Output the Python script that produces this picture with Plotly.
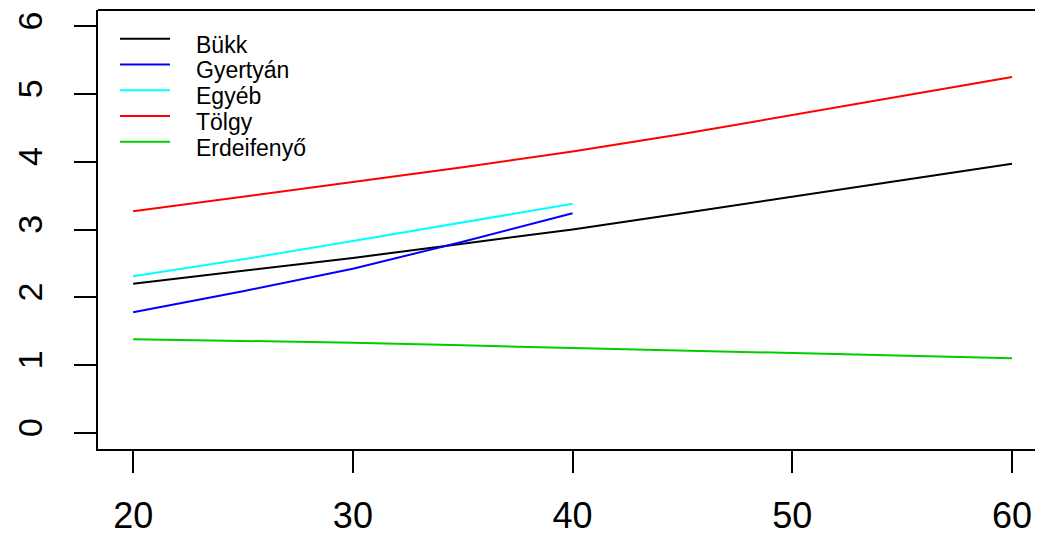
import plotly.graph_objects as go

x_long = [20, 25, 30, 35, 40, 45, 50, 55, 60]
x_short = [20, 25, 30, 35, 40]

bukk = [2.20, 2.39, 2.58, 2.79, 3.00, 3.24, 3.48, 3.72, 3.97]
gyertyan = [1.78, 2.09, 2.42, 2.82, 3.24]
egyeb = [2.31, 2.56, 2.83, 3.10, 3.38]
tolgy = [3.27, 3.48, 3.70, 3.92, 4.15, 4.41, 4.69, 4.96, 5.25]
erdeifenyo = [1.38, 1.36, 1.33, 1.29, 1.25, 1.21, 1.17, 1.14, 1.10]

names = ["Bükk", "Gyertyán", "Egyéb", "Tölgy", "Erdeifenyő"]
colors = ["#000000", "#0000FF", "#00FFFF", "#FF0000", "#00CD00"]
xs = [x_long, x_short, x_short, x_long, x_long]
ys = [bukk, gyertyan, egyeb, tolgy, erdeifenyo]

x_ticks = [20, 30, 40, 50, 60]
y_ticks = [0, 1, 2, 3, 4, 5, 6]

# page has an 8px body margin, so figure is sized to fill the rest of the window
W, H = 1035, 528
ML, MR, MT, MB = 90, 0, 2, 87
PW, PH = W - ML - MR, H - MT - MB

fig = go.Figure()
for n, c, xv, yv in zip(names, colors, xs, ys):
    fig.add_trace(go.Scatter(x=xv, y=yv, mode="lines", name=n,
                             line=dict(color=c, width=2), showlegend=False))

# manual legend (R-style) in paper coordinates
shapes = [dict(type="line", xref="paper", yref="paper", x0=0, x1=1, y0=1, y1=1,
               line=dict(color="black", width=2))]
annotations = []
leg_x0, leg_x1, leg_tx = 112, 162, 186
leg_y0, leg_dy = 30.7, 25.75
for i, (n, c) in enumerate(zip(names, colors)):
    py = leg_y0 + i * leg_dy
    yp = (H - MB - py) / PH
    shapes.append(dict(type="line", xref="paper", yref="paper",
                       x0=(leg_x0 - ML) / PW, x1=(leg_x1 - ML) / PW, y0=yp, y1=yp,
                       line=dict(color=c, width=2)))
    annotations.append(dict(text=n, xref="paper", yref="paper",
                            x=(leg_tx - ML) / PW, y=(H - MB - (py + 6)) / PH,
                            xanchor="left", yanchor="middle", showarrow=False,
                            font=dict(size=23, color="black")))

fig.update_layout(
    width=W, height=H,
    margin=dict(l=ML, r=MR, t=MT, b=MB, autoexpand=False),
    paper_bgcolor="white", plot_bgcolor="white",
    font=dict(family="Liberation Sans, Arial, sans-serif", color="black"),
    showlegend=False,
    xaxis=dict(range=[18.4, 61.41], tickvals=x_ticks, ticktext=[str(v) for v in x_ticks],
               showgrid=False, zeroline=False, showline=True, linecolor="black", linewidth=2,
               ticks="outside", ticklen=22, tickwidth=2, tickcolor="black",
               tickfont=dict(size=36), ticklabelstandoff=12, automargin=False),
    yaxis=dict(range=[-0.24, 6.24], tickvals=y_ticks, ticktext=[str(v) for v in y_ticks],
               showgrid=False, zeroline=False, showline=True, linecolor="black", linewidth=2,
               ticks="outside", ticklen=22, tickwidth=2, tickcolor="black",
               tickfont=dict(size=34), tickangle=-90, ticklabelstandoff=18, automargin=False),
    shapes=shapes,
    annotations=annotations,
)

fig.write_html("out.html")
